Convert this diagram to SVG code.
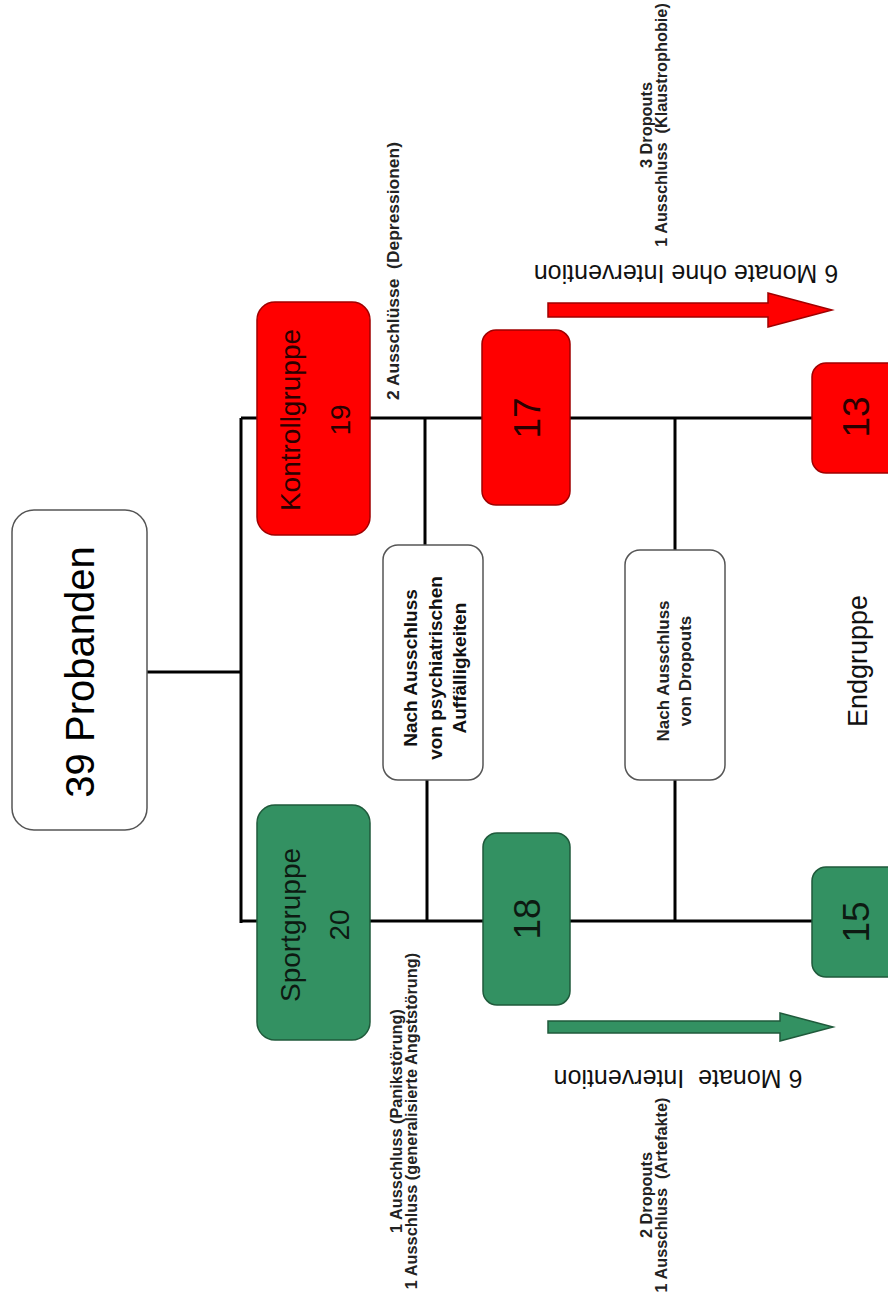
<svg xmlns="http://www.w3.org/2000/svg" width="888" height="1295" viewBox="0 0 888 1295">
<defs>
<style>
.t{font-family:"Liberation Sans",Arial,sans-serif;text-anchor:middle;dominant-baseline:central}
.b{font-weight:bold}
.white{fill:#fff;stroke:#555;stroke-width:1.5}
.red{fill:#ff0000;stroke:#a00000;stroke-width:1.5}
.green{fill:#339162;stroke:#1f5a3b;stroke-width:1.5}
.ln{stroke:#000;stroke-width:3;fill:none}
.small{font-size:16.3px;font-weight:bold;fill:#222}
</style>
</defs>
<rect width="888" height="1295" fill="#fff"/>
<g id="connectors">
<path class="ln" d="M147 672 H241 M241 418 V923 M241 418 H482 M241 921 H483 M425 418 V545 M427 780 V921 M570 418 H812 M570 921 H812 M675 418 V550 M675 780 V921"/>
</g>
<g id="probanden">
<rect class="white" x="12" y="510" width="135" height="320" rx="22"/>
<text class="t" font-size="40" transform="translate(80,672) rotate(-90)">39 Probanden</text>
</g>
<g id="kontrollgruppe">
<rect class="red" x="257" y="302" width="113" height="233" rx="18"/>
<text class="t" font-size="28" fill="#2a0000" transform="translate(290,420) rotate(-90)"><tspan x="0" y="0">Kontrollgruppe</tspan><tspan x="0" y="50">19</tspan></text>
</g>
<g id="sportgruppe">
<rect class="green" x="257" y="805" width="113" height="235" rx="18"/>
<text class="t" font-size="28" fill="#0d1a12" transform="translate(290,925) rotate(-90)"><tspan x="0" y="0">Sportgruppe</tspan><tspan x="0" y="49">20</tspan></text>
</g>
<g id="label-depressionen">
<text class="t small" transform="translate(393,271) rotate(-90)" textLength="258" lengthAdjust="spacingAndGlyphs" xml:space="preserve">2 Ausschlüsse  (Depressionen)</text>
</g>
<g id="label-panik">
<text class="t small" transform="translate(403,1121) rotate(-90)"><tspan x="0" y="-7.5">1 Ausschluss (Panikstörung)</tspan><tspan x="0" y="7.5">1 Ausschluss (generalisierte Angststörung)</tspan></text>
</g>
<g id="filter1">
<rect class="white" x="383" y="545" width="100" height="235" rx="15"/>
<text class="t b" font-size="19" fill="#111" transform="translate(435,668) rotate(-90)"><tspan x="0" y="-25">Nach Ausschluss</tspan><tspan x="0" y="0">von psychiatrischen</tspan><tspan x="0" y="24">Auffälligkeiten</tspan></text>
</g>
<g id="n17">
<rect class="red" x="482" y="330" width="88" height="175" rx="14"/>
<text class="t" font-size="37" fill="#2a0000" transform="translate(527,418) rotate(-90)">17</text>
</g>
<g id="n18">
<rect class="green" x="483" y="833" width="87" height="172" rx="14"/>
<text class="t" font-size="37" fill="#0d1a12" transform="translate(527,919) rotate(-90)">18</text>
</g>
<g id="filter2">
<rect class="white" x="625" y="550" width="100" height="230" rx="15"/>
<text class="t b" font-size="17" fill="#222" transform="translate(674,671) rotate(-90)"><tspan x="0" y="-11">Nach Ausschluss</tspan><tspan x="0" y="11">von Dropouts</tspan></text>
</g>
<g id="n13">
<rect class="red" x="812" y="363" width="100" height="110" rx="14"/>
<text class="t" font-size="37" fill="#2a0000" transform="translate(856,417) rotate(-90)">13</text>
</g>
<g id="n15">
<rect class="green" x="812" y="867" width="100" height="110" rx="14"/>
<text class="t" font-size="37" fill="#0d1a12" transform="translate(856,922) rotate(-90)">15</text>
</g>
<g id="endgruppe">
<text class="t" font-size="27" fill="#111" transform="translate(858,661) rotate(-90)">Endgruppe</text>
</g>
<g id="arrow-red">
<path d="M548 303 H768 V293 L832 310 L768 327 V317 H548 Z" fill="#ff0000" stroke="#a00000" stroke-width="1.5"/>
<text class="t" font-size="25" fill="#111" transform="translate(686,274) rotate(180)">6 Monate ohne Intervention</text>
<text class="t small" transform="translate(653,125) rotate(-90)"><tspan x="0" y="-7.5">3 Dropouts</tspan><tspan x="0" y="7.5" xml:space="preserve">1 Ausschluss  (Klaustrophobie)</tspan></text>
</g>
<g id="arrow-green">
<path d="M548 1021 H780 V1013 L833 1027 L780 1041 V1033 H548 Z" fill="#339162" stroke="#1f5a3b" stroke-width="1.5"/>
<text class="t" font-size="25" fill="#111" transform="translate(678,1079) rotate(180)" xml:space="preserve">6 Monate  Intervention</text>
<text class="t small" transform="translate(653,1195) rotate(-90)"><tspan x="0" y="-7.5">2 Dropouts</tspan><tspan x="0" y="7.5" xml:space="preserve">1 Ausschluss  (Artefakte)</tspan></text>
</g>
</svg>
